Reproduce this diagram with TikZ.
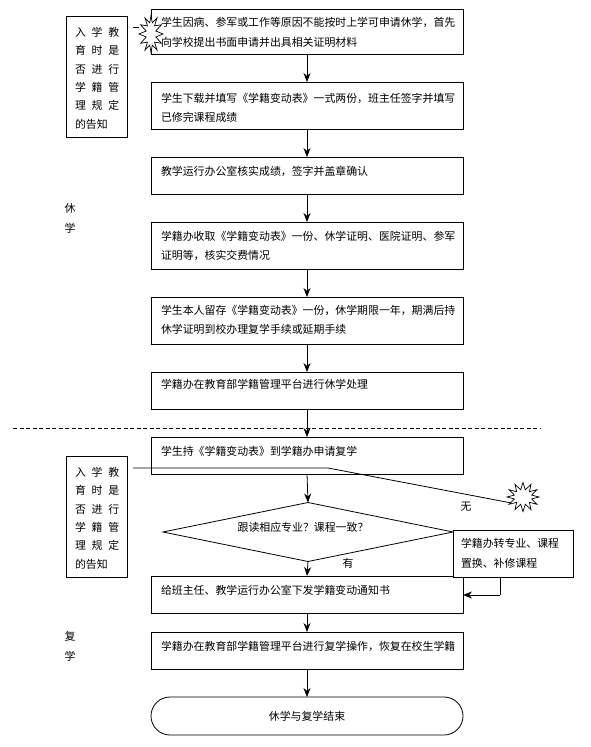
\documentclass[tikz,border=0pt]{standalone}
\usepackage{fontspec}
\setmainfont{Noto Sans CJK SC}
\usetikzlibrary{shapes.geometric,shapes.symbols,shapes.misc,arrows.meta}
\newcommand{\flowtext}[4]{\parbox[c][#2pt][t]{#1pt}{\vspace{#3pt}\leftskip=10pt\baselineskip=19.5pt\lineskiplimit=-20pt\parindent=0pt #4\par}}
\newcommand{\sidetext}[1]{\parbox[c][121pt][t]{61pt}{\vspace{11pt}\leftskip=9pt\spaceskip=5.8pt\baselineskip=18.4pt\lineskiplimit=-20pt\parindent=0pt #1\par}}
\tikzset{
  x=1pt,y=-1pt,
  every node/.style={font=\fontsize{10.9pt}{20pt}\selectfont,inner sep=0pt,outer sep=0pt},
  flow/.style={draw=black,line width=0.8pt,fill=white,anchor=north west},
  side/.style={draw=black,line width=0.8pt,fill=white,anchor=north west},
  flowarrow/.style={draw=black,line width=0.8pt,-{Stealth[length=9pt,width=7pt]}},
  plainline/.style={draw=black,line width=0.8pt},
  burst/.style={starburst,starburst points=12,starburst point height=7pt,random starburst=0,draw=black,line width=0.7pt,fill=white,anchor=center},
  mark text/.style={anchor=center},
}
\begin{document}
\begin{tikzpicture}
\useasboundingbox (0,0) rectangle (590,747);
\node[side] (s1) at (66,16) {\sidetext{入 学 教\\育 时 是\\否 进 行\\学 籍 管\\理 规 定\\的告知}};
\node[flow] (b1) at (151,9) {\flowtext{312}{45}{8.5}{学生因病、参军或工作等原因不能按时上学可申请休学，首先\\向学校提出书面申请并出具相关证明材料}};
\node[flow] (b2) at (151,82) {\flowtext{312}{47}{11}{学生下载并填写《学籍变动表》一式两份，班主任签字并填写\\已修完课程成绩}};
\node[flow] (b3) at (151,157) {\flowtext{312}{37}{9}{教学运行办公室核实成绩，签字并盖章确认}};
\node[flow] (b4) at (151,222) {\flowtext{312}{47}{9}{学籍办收取《学籍变动表》一份、休学证明、医院证明、参军\\证明等，核实交费情况}};
\node[flow] (b5) at (151,297) {\flowtext{312}{47}{8}{学生本人留存《学籍变动表》一份，休学期限一年，期满后持\\休学证明到校办理复学手续或延期手续}};
\node[flow] (b6) at (151,372) {\flowtext{312}{37}{7}{学籍办在教育部学籍管理平台进行休学处理}};
\node[flow] (b7) at (151,437) {\flowtext{312}{37}{9}{学生持《学籍变动表》到学籍办申请复学}};
\node[side] (s2) at (66,456) {\sidetext{入 学 教\\育 时 是\\否 进 行\\学 籍 管\\理 规 定\\的告知}};
\node[diamond,draw=black,line width=0.8pt,aspect=5,anchor=center,minimum width=290pt,minimum height=59pt] (d) at (308,532) {};
\node[anchor=center] (dt) at (303,527) {跟读相应专业？课程一致？};
\node[flow] (b8) at (151,576) {\flowtext{312}{37}{9}{给班主任、教学运行办公室下发学籍变动通知书}};
\node[flow] (b9) at (453,530) {\parbox[c][47pt][t]{120pt}{\vspace{8pt}\leftskip=8pt\baselineskip=20pt\lineskiplimit=-20pt\parindent=0pt 学籍办转专业、课程\\置换、补修课程\par}};
\node[flow] (b10) at (151,632) {\flowtext{312}{37}{9}{学籍办在教育部学籍管理平台进行复学操作，恢复在校生学籍}};
\node[draw=black,line width=0.8pt,fill=white,rounded rectangle,minimum width=312pt,minimum height=38pt,anchor=center] (e) at (307,716) {休学与复学结束};
\node[burst,minimum width=24pt,minimum height=37pt] (st1) at (151,34) {};
\node[burst,minimum width=32pt,minimum height=29pt] (st2) at (523,497) {};
\coordinate (c0) at (133,27);
\coordinate (c1) at (133,468);
\coordinate (c2) at (328,468);
\coordinate (dl) at (13,428);
\coordinate (dr) at (540,428);
\coordinate (c3) at (500,595);
\draw[plainline] (c0) -- (st1.west |- c0);
\draw[plainline] (c1) -- (c2) -- (st2.205);
\draw[plainline,dashed,dash pattern=on 4pt off 2.5pt] (dl) -- (dr);
\draw[flowarrow] (b1.south) -- (b2.north);
\draw[flowarrow] (b2.south) -- (b3.north);
\draw[flowarrow] (b3.south) -- (b4.north);
\draw[flowarrow] (b4.south) -- (b5.north);
\draw[flowarrow] (b5.south) -- (b6.north);
\draw[flowarrow] (b6.south) -- (b7.north);
\draw[flowarrow] (b7.south) -- (d.north);
\draw[flowarrow] (d.south) -- (b8.north);
\draw[flowarrow] (b10.south) -- (e.north);
\draw[flowarrow] (b8.south) -- (b10.north);
\draw[plainline] (b9.south -| c3) -- (c3);
\draw[flowarrow] (c3) -- (b8.east |- c3);
\node[mark text] (t1) at (70,208) {休};
\node[mark text] (t2) at (70,228) {学};
\node[mark text] (t3) at (70,636) {复};
\node[mark text] (t4) at (70,656) {学};
\node[mark text] (t5) at (466,507) {无};
\node[mark text] (t6) at (348,563) {有};
\end{tikzpicture}
\end{document}
